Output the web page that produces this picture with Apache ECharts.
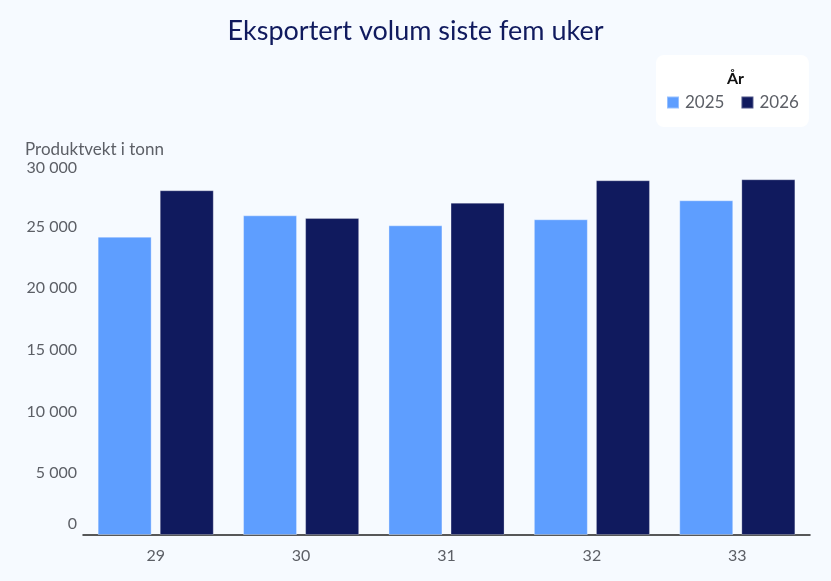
<!DOCTYPE html>
<html>
<head>
<meta charset="utf-8">
<script src="https://cdn.jsdelivr.net/npm/echarts@6/dist/echarts.min.js"></script>
<style>
	html, body { margin: 0; padding: 0; background: #F6FAFF; }
	#chart { width: 831px; height: 581px; }
</style>
</head>
<body>
<div id="chart"></div>
<script>
// uker og eksportvolum (tonn)
var weeks = ['29', '30', '31', '32', '33'];
var vol2025 = [24190, 25920, 25110, 25600, 27140];
var vol2026 = [27950, 25700, 26940, 28760, 28840];
var yTicks = [0, 5000, 10000, 15000, 20000, 25000, 30000];

var labelColor = '#5C5F66';
var fontName = 'Lato';

function fmt(v) {
	return String(v).replace(/\B(?=(\d{3})+(?!\d))/g, ' ');
}

var chart = echarts.init(document.getElementById('chart'));
chart.setOption({
	backgroundColor: '#F6FAFF',
	textStyle: { fontFamily: fontName },
	title: [
		{
			text: 'Eksportert volum siste fem uker',
			left: 'center',
			top: 13,
			textStyle: { color: '#101A5E', fontSize: 27, fontWeight: 'normal', fontFamily: fontName }
		},
		{
			text: 'År',
			left: 722,
			top: 66,
			textStyle: { color: '#111111', fontSize: 16, fontWeight: 'bold', fontFamily: fontName }
		},
		{
			text: 'Produktvekt i tonn',
			left: 20,
			top: 136,
			textStyle: { color: labelColor, fontSize: 17, fontWeight: 'normal', fontFamily: fontName }
		}
	],
	legend: {
		orient: 'horizontal',
		left: 656,
		top: 55,
		width: 134,
		padding: [39, 10, 16, 10],
		backgroundColor: '#FFFFFF',
		borderRadius: 8,
		itemWidth: 12,
		itemHeight: 12,
		itemGap: 16,
		icon: 'rect',
		textStyle: { color: labelColor, fontSize: 17, padding: [0, 0, 0, 1] },
		data: ['2025', '2026']
	},
	grid: { left: 83, right: 21, top: 165, bottom: 46, containLabel: false },
	xAxis: {
		type: 'category',
		data: weeks,
		axisLine: { lineStyle: { color: '#222222', width: 1.5 } },
		axisTick: { show: false },
		axisLabel: { color: labelColor, fontSize: 16, margin: 13 }
	},
	yAxis: {
		type: 'value',
		min: yTicks[0],
		max: yTicks[yTicks.length - 1],
		interval: 5000,
		splitLine: { show: false },
		axisLine: { show: false },
		axisTick: { show: false },
		axisLabel: {
			color: labelColor,
			fontSize: 16,
			margin: 6,
			formatter: function(v) {
				if(v === 0) return '{z|0}';
				if(v === 30000) return '{t|' + fmt(v) + '}';
				return fmt(v);
			},
			rich: {
				z: { fontSize: 16, color: labelColor, padding: [0, 0, 22, 0] },
				t: { fontSize: 16, color: labelColor, padding: [6, 0, 0, 0] }
			}
		}
	},
	series: [
		{
			name: '2025',
			type: 'bar',
			data: vol2025,
			barWidth: 54,
			barGap: '15%',
			itemStyle: { color: '#5E9EFF', borderColor: 'rgba(255,255,255,0.35)', borderWidth: 1 }
		},
		{
			name: '2026',
			type: 'bar',
			data: vol2026,
			barWidth: 54,
			barGap: '15%',
			itemStyle: { color: '#101A5E', borderColor: 'rgba(255,255,255,0.25)', borderWidth: 1 }
		}
	]
});
</script>
</body>
</html>
